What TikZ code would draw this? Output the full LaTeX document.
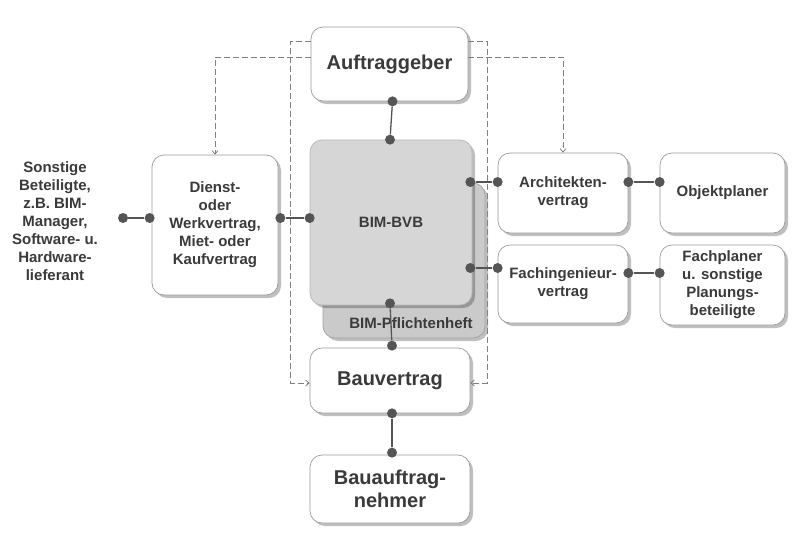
\documentclass[tikz,border=0pt]{standalone}
\usepackage{fontspec}
\setmainfont{Liberation Sans}
\usetikzlibrary{shadows,arrows.meta,calc}
\definecolor{txt}{HTML}{3A3A3A}
\definecolor{bordergray}{HTML}{9A9A9A}
\definecolor{dotgray}{HTML}{555555}
\definecolor{bvbfill}{HTML}{D6D6D6}
\definecolor{pffill}{HTML}{CACACA}
\tikzset{
  box/.style={draw=bordergray, line width=0.7pt, fill=white, rounded corners=12pt,
    drop shadow={shadow xshift=3pt,shadow yshift=-3pt,fill=black,opacity=0.25},
    align=center, text=txt, inner sep=0pt,
    font=\bfseries\fontsize{15}{18}\selectfont},
  big/.style={font=\bfseries\fontsize{20}{23}\selectfont},
  dot/.style={circle, fill=dotgray, inner sep=0pt, minimum size=10pt},
  conn/.style={draw=dotgray, line width=1.3pt},
  dashline/.style={draw=gray, line width=0.8pt, dash pattern=on 6pt off 3pt,
    -{Straight Barb[length=3.5pt,width=6pt]}},
  plain/.style={text=txt, align=center, font=\bfseries\fontsize{15}{18}\selectfont}
}
\begin{document}
\begin{tikzpicture}[x=1pt,y=-1pt]
\useasboundingbox (0,0) rectangle (800,536);
\fill[white] (0,0) rectangle (800,536);

% nodes
\node[box,big,minimum width=157pt,minimum height=74pt] (ag) at (389.5,64) {Auftraggeber};
\node[box,minimum width=126pt,minimum height=140pt] (dv) at (215,225)
  {Dienst-\\oder\\Werkvertrag,\\Miet- oder\\Kaufvertrag};
\node[plain] (sb) at (55,221)
  {Sonstige\\Beteiligte,\\z.B. BIM-\\Manager,\\Software- u.\\Hardware-\\lieferant};
\node[box,fill=pffill,draw=pffill!80!black,minimum width=162pt,minimum height=155pt] (pf) at (404,260.5) {};
\node[plain] (pft) at (411,323) {BIM-Pflichtenheft};
\node[box,fill=bvbfill,draw=bvbfill!85!black,minimum width=162pt,minimum height=165pt] (bvb) at (391,222.5) {BIM-BVB};
\node[box,big,minimum width=160pt,minimum height=65pt] (bv) at (390,380.5) {Bauvertrag};
\node[box,big,minimum width=160pt,minimum height=68pt] (ban) at (390,489) {Bauauftrag-\\nehmer};
\node[box,minimum width=130pt,minimum height=80pt] (av) at (563,193) {Architekten-\\vertrag};
\node[box,minimum width=125pt,minimum height=80pt] (op) at (722.5,193) {Objektplaner};
\node[box,minimum width=130pt,minimum height=78pt] (fi) at (563,284) {Fachingenieur-\\vertrag};
\node[box,minimum width=125pt,minimum height=80pt] (fp) at (722.5,285)
  {Fachplaner\\u. sonstige\\Planungs-\\beteiligte};

% dashed arrows
\draw[dashline] ([yshift=7pt]ag.west) -| (dv.north);
\draw[dashline] ([yshift=7pt]ag.east) -| (av.north);
\coordinate (lc) at ([xshift=-19pt,yshift=-2.5pt]bv.west);
\coordinate (rc) at ([xshift=17pt,yshift=-2.5pt]bv.east);
\draw[dashline] ([yshift=23pt]ag.west) -| (lc) -- ([yshift=-2.5pt]bv.west);
\draw[dashline] ([yshift=23pt]ag.east) -| (rc) -- ([yshift=-2.5pt]bv.east);

% dots
\node[dot] (d1) at ([xshift=3pt]ag.south) {};
\node[dot] (d2) at ([xshift=-1pt]bvb.north) {};
\node[dot] (d3) at ([yshift=4.5pt]bvb.west) {};
\node[dot] (d4) at ([xshift=2pt,yshift=7pt]dv.east) {};
\node[dot] (d5) at ([xshift=-2pt,yshift=7pt]dv.west) {};
\node[dot] (d6) at (123,218) {};
\node[dot] (d7) at ([xshift=-2pt,yshift=40.5pt]bvb.east) {};
\node[dot] (d8) at ([yshift=11pt]av.west) {};
\node[dot] (d9) at ([xshift=-2pt,yshift=-45.5pt]bvb.east) {};
\node[dot] (d10) at ([yshift=16pt]fi.west) {};
\node[dot] (d11) at ([yshift=11pt]av.east) {};
\node[dot] (d12) at ([yshift=11pt]op.west) {};
\node[dot] (d13) at ([yshift=11pt]fi.east) {};
\node[dot] (d14) at ([yshift=12pt]fp.west) {};
\node[dot] (d15) at ([xshift=-1pt,yshift=2pt]bvb.south) {};
\node[dot] (d16) at ([xshift=2pt,yshift=2pt]bv.north) {};
\node[dot] (d17) at ([xshift=2pt]bv.south) {};
\node[dot] (d18) at ([xshift=2pt,yshift=2pt]ban.north) {};

% connectors
\draw[conn] (d1) -- (d2);
\draw[conn] (d3) -- (d4);
\draw[conn] (d5) -- (d6);
\draw[conn] (d7) -- (d8);
\draw[conn] (d9) -- (d10);
\draw[conn] (d11) -- (d12);
\draw[conn] (d13) -- (d14);
\draw[conn] (d15) -- (d16);
\draw[conn] (d17) -- (d18);
\end{tikzpicture}
\end{document}
